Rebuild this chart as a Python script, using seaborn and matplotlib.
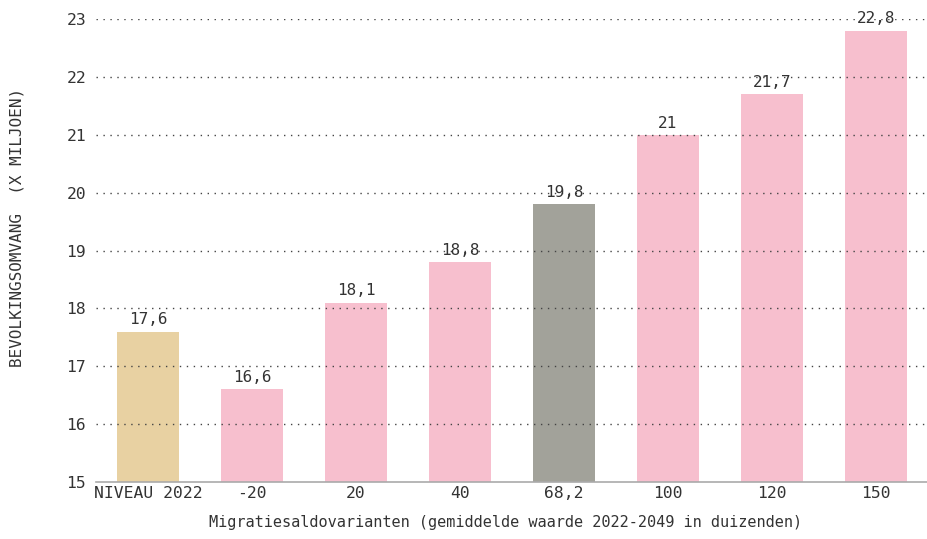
import matplotlib
matplotlib.use("Agg")
import matplotlib.pyplot as plt
import seaborn as sns
import pandas as pd

categories = ["NIVEAU 2022", "-20", "20", "40", "68,2", "100", "120", "150"]
values = [17.6, 16.6, 18.1, 18.8, 19.8, 21.0, 21.7, 22.8]
value_labels = ["17,6", "16,6", "18,1", "18,8", "19,8", "21", "21,7", "22,8"]
colors = ["#E8D1A2", "#F7BFCE", "#F7BFCE", "#F7BFCE", "#A2A29A", "#F7BFCE", "#F7BFCE", "#F7BFCE"]
y_ticks = [15, 16, 17, 18, 19, 20, 21, 22, 23]

sns.set_theme(style="white")
plt.rcParams["font.family"] = ["DejaVu Sans Mono"]
txt = "#333333"

df = pd.DataFrame({"cat": categories, "val": values})

fig = plt.figure(figsize=(9.28, 5.39), dpi=100)
ax = fig.add_axes([0.1034, 0.1058, 0.8966, 0.8589])

sns.barplot(data=df, x="cat", y="val", hue="cat", palette=colors, legend=False,
            width=0.59, ax=ax, saturation=1, zorder=1, linewidth=0, edgecolor="none")

ax.set_ylim(15, 23)
ax.set_xlim(-0.5, 7.5)
ax.set_yticks(y_ticks)
ax.set_yticklabels([str(t) for t in y_ticks])

for t in y_ticks[1:]:
    ax.axhline(t, color="#444444", lw=1.0, ls=(0, (1, 4)), zorder=3)

for i, (v, lab) in enumerate(zip(values, value_labels)):
    ax.annotate(lab, (i, v), xytext=(0, 3), textcoords="offset points",
                ha="center", va="bottom", fontsize=11.5, color=txt, zorder=4,
                annotation_clip=False)

for s in ["top", "right", "left"]:
    ax.spines[s].set_visible(False)
ax.spines["bottom"].set_color("#aaaaaa")
ax.spines["bottom"].set_linewidth(1.2)
ax.spines["bottom"].set_zorder(5)

ax.tick_params(axis="both", length=0, labelsize=11.8, labelcolor=txt)
ax.tick_params(axis="y", pad=7)
ax.tick_params(axis="x", pad=3)

ax.set_xlabel("Migratiesaldovarianten (gemiddelde waarde 2022-2049 in duizenden)",
              fontsize=11, color=txt)
ax.xaxis.set_label_coords(0.492, -0.071)
ax.set_ylabel("BEVOLKINGSOMVANG  (X MILJOEN)", fontsize=11.5, color=txt, va="center")
ax.yaxis.set_label_coords(-0.095, 0.550)

fig.savefig("out.png", dpi=100)
